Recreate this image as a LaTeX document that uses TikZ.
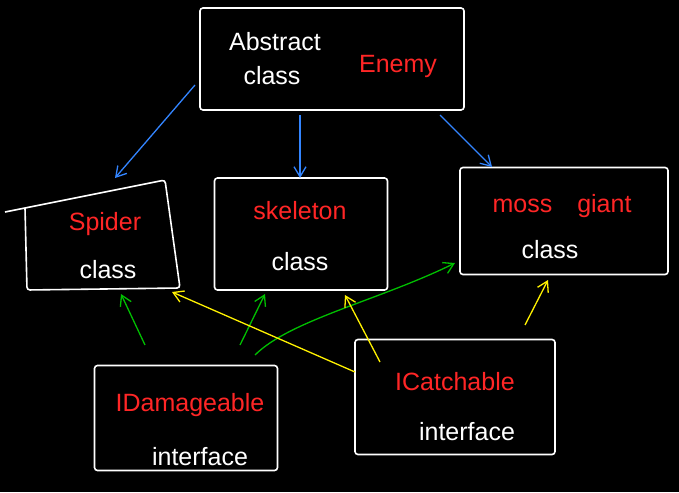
\documentclass[tikz,border=0pt]{standalone}
\usepackage{fontspec}
\setmainfont{Liberation Sans}
\usetikzlibrary{arrows.meta}
\begin{document}
\begin{tikzpicture}[x=1pt,y=-1pt,
  box/.style={draw=white,line width=1.6pt,rounded corners=3pt},
  red/.style={text=red!85!white,font=\fontsize{25}{27}\selectfont},
  wht/.style={text=white,font=\fontsize{25}{27}\selectfont},
  arr/.style={line width=1.3pt,-{Straight Barb[length=10pt,width=12pt]}},
  blu/.style={arr,draw=blue!60!cyan!80!white},
  grn/.style={arr,draw=green!75!black},
  yel/.style={arr,draw=yellow}]
\fill[black] (0,0) rectangle (679,492);
\useasboundingbox (0,0) rectangle (679,492);
\node[box,minimum width=264,minimum height=102] (abs) at (332,59) {};
\node[minimum width=155,minimum height=110] (spi) at (102,235) {};
\draw[white,line width=1.6pt,rounded corners=3pt] (5,212) -- (165,180) -- (180,288) -- (27,290) -- (25,208);
\node[box,minimum width=173,minimum height=112] (ske) at (301,234) {};
\node[box,minimum width=208,minimum height=107] (mos) at (564,221) {};
\node[box,minimum width=183,minimum height=105] (ida) at (186,418) {};
\node[box,minimum width=200,minimum height=115] (ica) at (455,397) {};
\node[wht] (t1) at (275,42) {Abstract};
\node[wht] (t2) at (272,76) {class};
\node[red] (t3) at (398,66) {Enemy};
\node[red] (t4) at (105,224) {Spider};
\node[wht] (t5) at (108,270) {class};
\node[red] (t6) at (300,211) {skeleton};
\node[wht] (t7) at (300,262) {class};
\node[red] (t8) at (562,206) {moss\quad giant};
\node[wht] (t9) at (550,250) {class};
\node[red] (t10) at (190,405) {IDamageable};
\node[wht] (t11) at (200,457) {interface};
\node[red] (t12) at (455,382) {ICatchable};
\node[wht] (t13) at (467,432) {interface};
\coordinate (b1) at (195,85);
\coordinate (b2) at (300,115);
\coordinate (b3) at (440,115);
\draw[blu] (b1) -- (115,178);
\draw[blu] (b2) -- (300,178);
\draw[blu] (b3) -- (492,167);
\coordinate (g1) at (145,345);
\coordinate (g2) at (240,345);
\coordinate (g3) at (255,355);
\draw[grn] (g1) -- (121,294);
\draw[grn] (g2) -- (265,294);
\draw[grn] (g3) .. controls (290,320) and (380,300) .. (455,263);
\coordinate (y1) at (355,372);
\coordinate (y2) at (380,362);
\coordinate (y3) at (525,325);
\draw[yel] (y1) -- (172,292);
\draw[yel] (y2) -- (345,295);
\draw[yel] (y3) -- (548,280);
\end{tikzpicture}
\end{document}
